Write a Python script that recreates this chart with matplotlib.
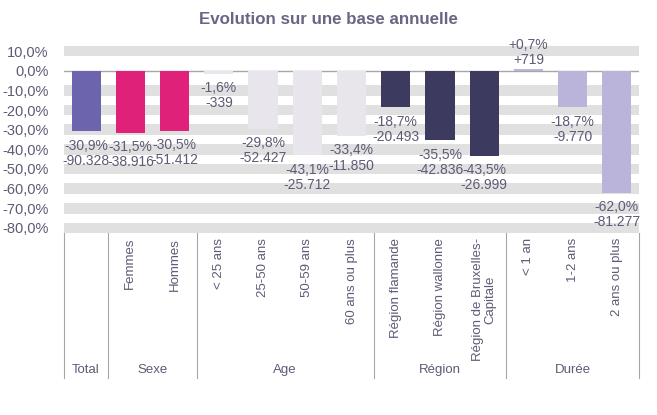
import matplotlib.pyplot as plt
from matplotlib.lines import Line2D

plt.rcParams['font.family'] = ['Liberation Sans', 'DejaVu Sans']

# données
categories = ['Total', 'Femmes', 'Hommes', '< 25 ans', '25-50 ans', '50-59 ans',
              '60 ans ou plus', 'Région flamande', 'Région wallonne',
              'Région de Bruxelles-\nCapitale', '< 1 an', '1-2 ans', '2 ans ou plus']
etiquettes_axe = [''] + categories[1:]  # pas d'étiquette sous "Total"
pourcent = [-30.9, -31.5, -30.5, -1.6, -29.8, -43.1, -33.4, -18.7, -35.5, -43.5, 0.7, -18.7, -62.0]
nombres = ['-90.328', '-38.916', '-51.412', '-339', '-52.427', '-25.712', '-11.850',
           '-20.493', '-42.836', '-26.999', '+719', '-9.770', '-81.277']
groupes = ['Total', 'Sexe', 'Age', 'Région', 'Durée']
taille_groupes = [1, 2, 4, 3, 3]
couleurs_groupes = ['#6C64AD', '#E0217A', '#E8E6EC', '#3C3A5E', '#BAB4DB']
yticks = [10, 0, -10, -20, -30, -40, -50, -60, -70, -80]

texte = '#5f5a75'

fig = plt.figure(figsize=(6.57, 4.15), dpi=100)
ax = fig.add_axes([64 / 657, 1 - 233.3 / 415, 575 / 657, 187.6 / 415])

couleurs = []
for c, n in zip(couleurs_groupes, taille_groupes):
    couleurs += [c] * n

x = list(range(len(categories)))
ax.set_xlim(-0.5, len(categories) - 0.5)
ax.set_ylim(-82.7, 12.7)

# bandes grises
for t in yticks:
    if t != 0:
        ax.axhspan(t - 2.7, t + 2.7, color='#e0e0e0', lw=0, zorder=0)
ax.axhline(0, color='#a6a6a6', lw=1, zorder=1)

ax.bar(x, pourcent, width=0.66, color=couleurs, zorder=2)

for xi, p, n in zip(x, pourcent, nombres):
    lab = ('%+.1f%%' % p).replace('.', ',') + '\n' + n
    if p >= 0:
        ax.text(xi, p + 1.0, lab, ha='center', va='bottom', fontsize=10,
                color=texte, linespacing=1.1, zorder=3)
    else:
        ax.text(xi, p - 3.6, lab, ha='center', va='top', fontsize=10,
                color=texte, linespacing=1.1, zorder=3)

ax.set_yticks(yticks)
ax.set_yticklabels([('%.1f%%' % t).replace('.', ',') for t in yticks],
                   fontsize=10.5, color=texte)
ax.tick_params(axis='y', length=0, pad=11)
ax.set_xticks([])
for s in ax.spines.values():
    s.set_visible(False)

# axe des catégories
tr = ax.get_xaxis_transform()
for xi, c in zip(x, etiquettes_axe):
    ax.text(xi, -0.025, c, rotation=90, ha='center', va='top', fontsize=9.5,
            color=texte, transform=tr, multialignment='center', linespacing=0.95)

bornes = [-0.5]
for n in taille_groupes:
    bornes.append(bornes[-1] + n)
for b in bornes:
    ax.add_line(Line2D([b, b], [0, -0.77], transform=tr, color='#a6a6a6',
                       lw=0.8, clip_on=False))
for g, a, b in zip(groupes, bornes[:-1], bornes[1:]):
    ax.text((a + b) / 2, -0.728, g, ha='center', va='center', fontsize=9.5,
            color=texte, transform=tr)

fig.text(0.5, 1 - 20 / 415, 'Evolution sur une base annuelle', ha='center',
         va='center', fontsize=12.2, fontweight='bold', color='#6b6585')

fig.savefig('out.png', dpi=100)
